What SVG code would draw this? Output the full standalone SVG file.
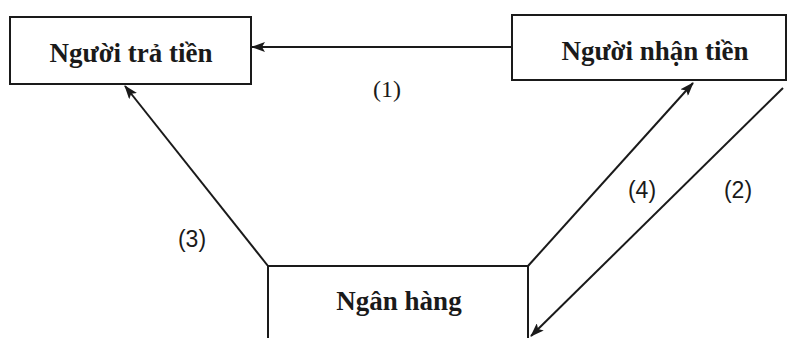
<svg xmlns="http://www.w3.org/2000/svg" width="792" height="338" viewBox="0 0 792 338">
<defs>
<style>
.box{fill:#fff;stroke:#1a1a1a;stroke-width:2}
.nt{font-family:"Liberation Serif","Times New Roman",serif;font-weight:bold;font-size:27px;fill:#1a1a1a;text-anchor:middle}
.lb{font-family:"Liberation Sans",Arial,sans-serif;font-size:23px;fill:#1a1a1a;text-anchor:middle}
.lbs{font-family:"Liberation Serif","Times New Roman",serif;font-size:24px;fill:#1a1a1a;text-anchor:middle}
.ln{stroke:#1a1a1a;stroke-width:2;fill:none}
</style>
<marker id="ah" viewBox="0 0 14 10" refX="13" refY="5" markerWidth="14" markerHeight="10" markerUnits="userSpaceOnUse" orient="auto">
<path d="M0,0 L14,5 L0,10 L3,5 Z" fill="#1a1a1a"/>
</marker>
</defs>
<rect width="792" height="338" fill="#fff"/>
<g id="connectors">
<line class="ln" x1="512" y1="47" x2="252" y2="47" marker-end="url(#ah)"/>
<line class="ln" x1="268" y1="266" x2="125" y2="86" marker-end="url(#ah)"/>
<line class="ln" x1="528" y1="266" x2="693" y2="83" marker-end="url(#ah)"/>
<line class="ln" x1="783" y1="88" x2="531" y2="336" marker-end="url(#ah)"/>
<text class="lbs" x="387" y="97">(1)</text>
<text class="lb" x="738" y="198">(2)</text>
<text class="lb" x="192" y="247">(3)</text>
<text class="lb" x="642" y="198">(4)</text>
</g>
<g id="nguoi-tra-tien">
<rect class="box" x="10" y="17" width="241" height="67"/>
<text class="nt" x="131" y="62">Người trả tiền</text>
</g>
<g id="nguoi-nhan-tien">
<rect class="box" x="512" y="15" width="274" height="65"/>
<text class="nt" x="655" y="60">Người nhận tiền</text>
</g>
<g id="ngan-hang">
<rect class="box" x="268" y="266" width="260" height="80"/>
<text class="nt" x="399" y="310">Ngân hàng</text>
</g>
</svg>
